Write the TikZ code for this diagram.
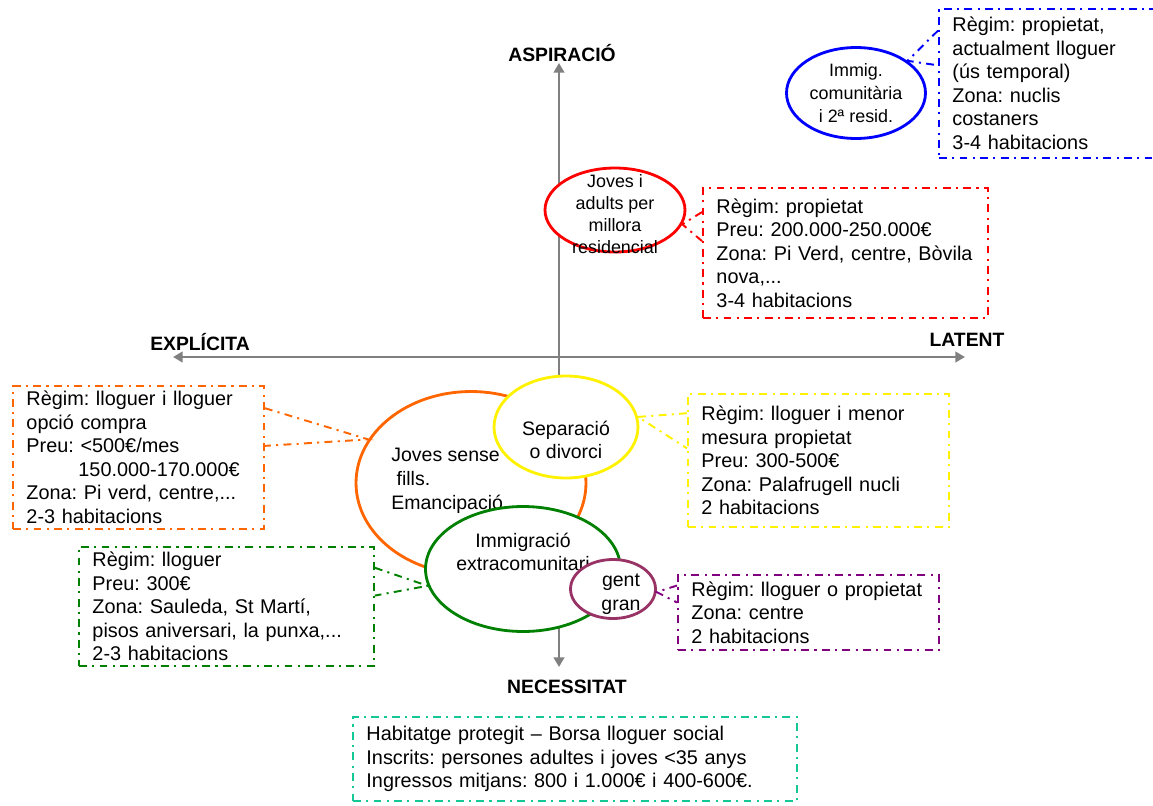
\documentclass[tikz,border=0pt]{standalone}
\usepackage{fontspec}
\setmainfont{Liberation Sans}
\frenchspacing
\usetikzlibrary{arrows.meta,calc,shapes.geometric}
\definecolor{axisgray}{RGB}{128,128,128}
\definecolor{orangeline}{RGB}{255,102,0}
\definecolor{greenline}{RGB}{0,128,0}
\definecolor{plumline}{RGB}{153,51,102}
\definecolor{violetline}{RGB}{128,0,128}
\definecolor{tealline}{RGB}{20,200,150}

\begin{document}
\begin{tikzpicture}
[x=0.02cm,y=-0.02cm,
axis/.style={line width=1.7pt, draw=axisgray, {Triangle[length=5.5pt,width=6pt]}-{Triangle[length=5.5pt,width=6pt]}},
axislabel/.style={inner sep=0pt, font=\fontsize{11}{13}\selectfont\bfseries},
group/.style={ellipse, draw, line width=1.6pt, fill=white, inner sep=0pt},
grouptext/.style={align=center, inner sep=0pt, font=\fontsize{11.1}{13.5}\selectfont\frenchspacing},
smalltext/.style={grouptext, font=\fontsize{10.2}{12.6}\selectfont\frenchspacing},
info/.style={rectangle, draw, line width=1.1pt, dash pattern=on 4.5pt off 3pt on 1.2pt off 3pt, anchor=north west, align=left, inner xsep=0.27cm, inner ysep=0pt, font=\fontsize{11.3}{13.4}\selectfont\frenchspacing},
callout/.style={line width=1.1pt, dash pattern=on 4.5pt off 3pt on 1.2pt off 3pt}]
\useasboundingbox (0,0) rectangle (1153,805);
\clip (0,0) rectangle (1153,805);

% axes
\coordinate (asp) at (559,63);
\coordinate (nec) at (559,667);
\coordinate (exp) at (173,357);
\coordinate (lat) at (965,357);
\draw[axis] (exp) -- (lat);
\draw[axis] (asp) -- (nec);
\node[axislabel] (asptxt) at (562,53) {ASPIRACIÓ};
\node[axislabel] (nectxt) at (567,687) {NECESSITAT};
\node[axislabel] (exptxt) at (200,342) {EXPLÍCITA};
\node[axislabel] (lattxt) at (967,340) {LATENT};

% groups
\node[group, draw=blue, minimum width=2.78cm, minimum height=1.82cm] (immig) at (856,93) {};
\node[smalltext, font=\fontsize{10.2}{13}\selectfont] (immigtxt) at (856,93) {Immig.\\ comunitària\\ i 2ª resid.};

\node[group, draw=red, minimum width=2.8cm, minimum height=1.68cm] (joves) at (615,210) {};
\node[smalltext] (jovestxt) at (615,214) {Joves i\\ adults per\\ millora\\ residencial};

\node[group, draw=orangeline, minimum width=4.6cm, minimum height=3.66cm] (emancip) at (471,483) {};
\node[grouptext, align=left, anchor=west] (emanciptxt) at (391,481) {Joves sense\\ \hspace*{3pt}fills.\\ Emancipació};

\node[group, draw=yellow, minimum width=2.88cm, minimum height=2.04cm] (separacio) at (566,427) {};
\node[grouptext] (separaciotxt) at (566,440) {Separació\\ o divorci};

\node[group, draw=greenline, minimum width=3.9cm, minimum height=2.5cm] (immigracio) at (523,569) {};
\node[grouptext] (immigraciotxt) at (523,552) {Immigració\\ extracomunitari};

\node[group, draw=plumline, minimum width=1.7cm, minimum height=1.18cm] (gent) at (613,589) {};
\node[grouptext] (genttxt) at (621,594) {gent\\ gran};

% boxes
\node[info, draw=blue, text width=4.06cm, minimum height=2.98cm] (immigbox) at (938,8) {Règim: propietat,\\ actualment lloguer\\ (ús temporal)\\ Zona: nuclis\\ costaners\\ 3-4 habitacions};
\node[info, draw=red, text width=5.16cm, minimum height=2.6cm] (jovesbox) at (702,187) {Règim: propietat\\ Preu: 200.000-250.000€\\ Zona: Pi Verd, centre, Bòvila\\ nova,...\\ 3-4 habitacions};
\node[info, draw=orangeline, text width=4.48cm, minimum height=2.86cm] (emancipbox) at (12,385) {Règim: lloguer i lloguer\\ opció compra\\ Preu: <500€/mes\\ \hspace*{1.04cm}150.000-170.000€\\ Zona: Pi verd, centre,...\\ 2-3 habitacions};
\node[info, draw=yellow, text width=4.68cm, minimum height=2.66cm] (separaciobox) at (687,393) {Règim: lloguer i menor\\ mesura propietat\\ Preu: 300-500€\\ Zona: Palafrugell nucli\\ 2 habitacions};
\node[info, draw=greenline, text width=5.36cm, minimum height=2.38cm] (immigraciobox) at (78,546) {Règim: lloguer\\ Preu: 300€\\ Zona: Sauleda, St Martí,\\ pisos aniversari, la punxa,...\\ 2-3 habitacions};
\node[info, draw=violetline, text width=4.68cm, minimum height=1.5cm] (gentbox) at (677,574) {Règim: lloguer o propietat\\ Zona: centre\\ 2 habitacions};
\node[info, draw=tealline, text width=8.34cm, minimum height=1.68cm] (socialbox) at (352,716) {Habitatge protegit – Borsa lloguer social\\ Inscrits: persones adultes i joves <35 anys\\ Ingressos mitjans: 800 i 1.000€ i 400-600€.};

% callouts
\draw[callout, draw=blue] ($(immigbox.north west)!0.15!(immigbox.south west)$) -- (immig.32) -- ($(immigbox.north west)!0.38!(immigbox.south west)$);
\draw[callout, draw=red] ($(jovesbox.north west)!0.19!(jovesbox.south west)$) -- (joves.-12) -- ($(jovesbox.north west)!0.41!(jovesbox.south west)$);
\draw[callout, draw=orangeline] ($(emancipbox.north east)!0.16!(emancipbox.south east)$) -- (emancip.157) -- ($(emancipbox.north east)!0.42!(emancipbox.south east)$);
\draw[callout, draw=yellow] ($(separaciobox.north west)!0.15!(separaciobox.south west)$) -- (separacio.8) -- ($(separaciobox.north west)!0.41!(separaciobox.south west)$);
\draw[callout, draw=greenline] ($(immigraciobox.north east)!0.18!(immigraciobox.south east)$) -- (immigracio.190) -- ($(immigraciobox.north east)!0.41!(immigraciobox.south east)$);
\draw[callout, draw=violetline] ($(gentbox.north west)!0.15!(gentbox.south west)$) -- (gent.-4) -- ($(gentbox.north west)!0.37!(gentbox.south west)$);

\end{tikzpicture}
\end{document}
